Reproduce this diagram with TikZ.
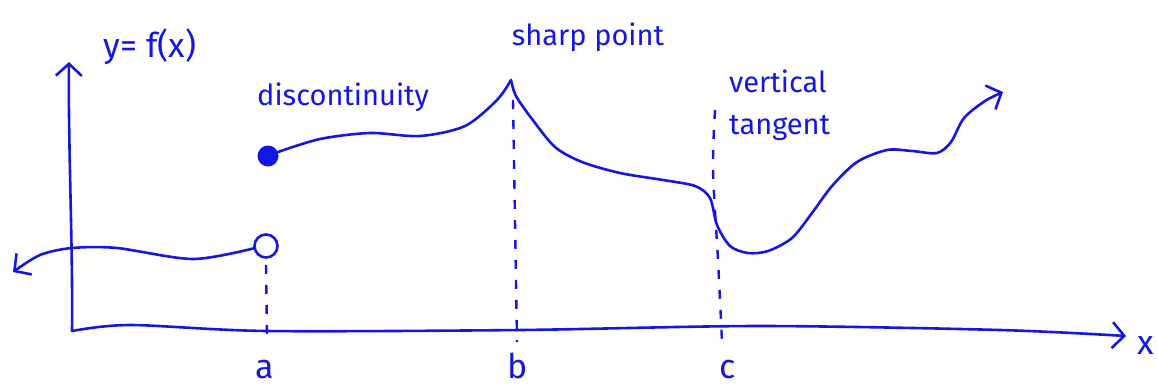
\documentclass[tikz,border=0pt]{standalone}
\usepackage{fontspec}
\setmainfont{Fira Sans}
\usetikzlibrary{arrows.meta}
\definecolor{inkblue}{RGB}{22,22,228}
\tikzset{
  ink/.style={draw=inkblue, line width=2.6pt, line cap=round, line join=round},
  inkarrow/.style={ink, -{Straight Barb[length=12pt, width=26pt, line width=2.6pt]}},
  guide/.style={draw=inkblue, line width=2.4pt, dash pattern=on 9pt off 11pt},
  lbl/.style={text=inkblue, font=\fontsize{29}{42}\selectfont, inner sep=0pt},
  ptlbl/.style={lbl, font=\fontsize{34}{34}\selectfont}
}

\begin{document}
\begin{tikzpicture}[x=1pt, y=-1pt]
  \useasboundingbox (0,0) rectangle (1158,389);
  % axes
  \coordinate (origin) at (72,331);
  \coordinate (ytop) at (69,62);
  \draw[inkarrow] (origin) .. controls (73,250) and (68,140) .. (ytop);
  \draw[inkarrow] plot[smooth] coordinates {(72,331) (130,325) (267,331) (520,330) (760,326) (1000,330) (1126,336)};
  % end points at a
  \node[circle, draw=inkblue, line width=2.6pt, minimum width=21pt, minimum height=23pt, inner sep=0pt] (open) at (266,246) {};
  \node[circle, fill=inkblue, minimum size=21pt, inner sep=0pt] (closed) at (268,156) {};
  % left piece
  \draw[inkarrow] plot[smooth] coordinates {(255,248) (193,259) (117,248) (72,248) (40,255) (13,272)};
  % main piece
  \draw[ink] plot[smooth] coordinates {(278,152) (320,139) (370,133) (420,136) (465,126) (497,100) (511,80)};
  \draw[inkarrow] plot[smooth] coordinates {(511,80) (516,96) (532,119) (555,147) (582,162) (620,173) (663,180) (695,186) (710,198) (717,225) (730,246) (748,253) (768,251) (792,238) (812,213) (832,186) (857,162) (887,150) (912,151) (937,153) (951,142) (964,118) (985,101) (1003,92)};
  % guides
  \draw[guide] (open.south) ++(0,6) -- (267,336);
  \draw[guide] (513,100) -- (517,342);
  \draw[guide] plot[smooth] coordinates {(715,110) (713,170) (718,260) (722,342)};
  % labels
  \node[lbl, font=\fontsize{34}{34}\selectfont] (ylbl) at (150,47) {y= f(x)};
  \node[lbl] (disc) at (343,97) {discontinuity};
  \node[lbl] (sharp) at (588,37) {sharp point};
  \node[lbl, align=left, anchor=north west] (vert) at (729,70) {vertical\\tangent};
  \node[ptlbl, anchor=base] (alab) at (265,378) {a};
  \node[ptlbl, anchor=base] (blab) at (518,378) {b};
  \node[ptlbl, anchor=base] (clab) at (728,378) {c};
  \node[ptlbl] (xlab) at (1146,346) {x};
\end{tikzpicture}
\end{document}
